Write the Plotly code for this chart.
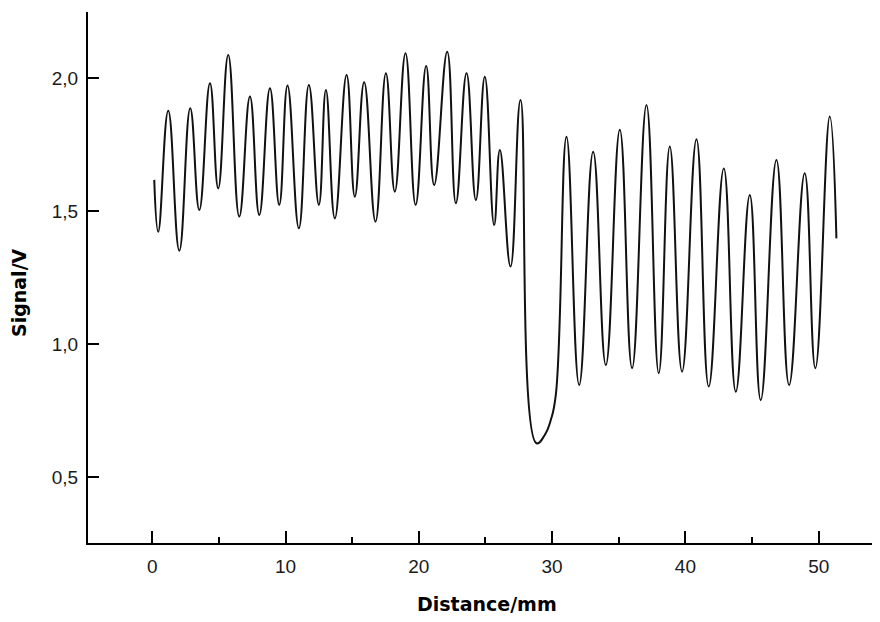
import plotly.graph_objects as go

# Values (extrema and a few shape points)
distance_mm = [
    0.15, 0.45, 1.20, 2.03, 2.85, 3.53, 4.33, 4.95, 5.70, 6.53,
    7.33, 8.03, 8.83, 9.53, 10.15, 11.00, 11.75, 12.50, 13.03, 13.70,
    14.58, 15.20, 15.90, 16.75, 17.53, 18.20, 19.00, 19.76, 20.55, 21.15,
    22.13, 22.78, 23.58, 24.28, 24.95, 25.65, 26.08, 26.88, 27.63, 28.83,
    29.45, 29.90, 30.28, 31.08, 32.03, 33.08, 34.03, 35.08, 36.00, 37.08,
    38.00, 38.83, 39.75, 40.83, 41.75, 42.88, 43.78, 44.83, 45.65, 46.83,
    47.78, 48.95, 49.75, 50.83, 51.33,
]
signal_v = [
    1.617, 1.422, 1.877, 1.351, 1.886, 1.504, 1.980, 1.585, 2.086, 1.479,
    1.930, 1.485, 1.961, 1.523, 1.972, 1.435, 1.974, 1.523, 1.955, 1.472,
    2.011, 1.554, 1.984, 1.460, 2.018, 1.573, 2.093, 1.523, 2.045, 1.598,
    2.099, 1.529, 2.018, 1.541, 2.005, 1.447, 1.729, 1.291, 1.917, 0.627,
    0.658, 0.714, 0.810, 1.779, 0.846, 1.723, 0.921, 1.805, 0.909, 1.898,
    0.890, 1.742, 0.896, 1.770, 0.840, 1.660, 0.821, 1.560, 0.789, 1.692,
    0.846, 1.642, 0.909, 1.855, 1.397,
]

x_major_ticks = [0, 10, 20, 30, 40, 50]
y_ticks = [0.5, 1.0, 1.5, 2.0]
x_title = "Distance/mm"
y_title = "Signal/V"

fig = go.Figure()
fig.add_trace(go.Scatter(
    x=distance_mm, y=signal_v, mode="lines",
    line=dict(color="#111111", width=2, shape="spline", smoothing=1.3),
    hoverinfo="x+y", showlegend=False,
))

tick_font = dict(family="Liberation Sans, Arial, sans-serif", size=19, color="#1a1a1a")

fig.update_xaxes(
    range=[-4.82, 54.6], showgrid=False, zeroline=False,
    showline=True, linecolor="#000000", linewidth=2,
    tickmode="array", tickvals=x_major_ticks,
    ticks="inside", ticklen=12, tickwidth=2, tickcolor="#000000",
    tickfont=tick_font, ticklabelstandoff=5,
    minor=dict(tickmode="linear", tick0=5, dtick=10, ticks="inside",
               ticklen=6, tickwidth=2, tickcolor="#000000", showgrid=False),
)
fig.update_yaxes(
    range=[0.252, 2.248], showgrid=False, zeroline=False,
    showline=True, linecolor="#000000", linewidth=2,
    tickmode="array", tickvals=y_ticks, tickformat=".1f",
    ticks="inside", ticklen=11, tickwidth=2, tickcolor="#000000",
    tickfont=tick_font, ticklabelstandoff=4,
)

title_font = dict(family="DejaVu Sans", size=19, color="#000000", weight="bold")
fig.add_annotation(text=x_title, xref="paper", yref="paper",
                   x=0.504, y=-0.115, showarrow=False, font=title_font,
                   xanchor="center", yanchor="middle")
fig.add_annotation(text=y_title, xref="paper", yref="paper",
                   x=-0.0871, y=0.4708, showarrow=False, font=title_font,
                   textangle=-90, xanchor="center", yanchor="middle")

# The page body has an 8px default margin, so the figure is 8px smaller
fig.update_layout(
    width=872, height=614,
    margin=dict(l=80, r=0, t=4, b=79),
    paper_bgcolor="#ffffff", plot_bgcolor="#ffffff",
    separators=",.",
)

fig.write_html("out.html")
